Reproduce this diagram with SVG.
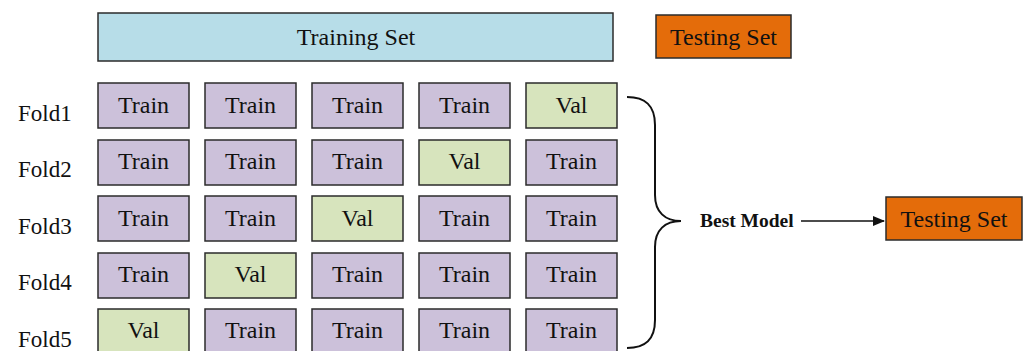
<svg xmlns="http://www.w3.org/2000/svg" width="1025" height="351" viewBox="0 0 1025 351">
  <style>
    .box { stroke: #2b2b2b; stroke-width: 1.5; }
    .train { fill: #ccc1da; }
    .val { fill: #d7e4bd; }
    .set { fill: #b7dde8; }
    .test { fill: #e46c0a; }
    text { font-family: "Liberation Serif", "Times New Roman", serif; fill: #111; }
    .cell { font-size: 24px; text-anchor: middle; }
    .fold { font-size: 23px; }
    .bold { font-size: 19.5px; font-weight: bold; }
  </style>
  <defs>
    <marker id="arrow" markerWidth="12" markerHeight="10" refX="11" refY="5" orient="auto" markerUnits="userSpaceOnUse">
      <path d="M0,0 L12,5 L0,10 Z" fill="#111"/>
    </marker>
  </defs>
  <rect width="1025" height="351" fill="#ffffff"/>

  <g id="training-set">
    <rect class="box set" x="98" y="13" width="515" height="48"/>
    <text class="cell" x="356" y="45">Training Set</text>
  </g>
  <g id="testing-set-top">
    <rect class="box test" x="656" y="15" width="135" height="43"/>
    <text class="cell" x="723.5" y="45">Testing Set</text>
  </g>

  <g id="labels">
    <text class="fold" x="18" y="121">Fold1</text>
    <text class="fold" x="18" y="177">Fold2</text>
    <text class="fold" x="18" y="234">Fold3</text>
    <text class="fold" x="18" y="290">Fold4</text>
    <text class="fold" x="18" y="347">Fold5</text>
  </g>

  <g id="fold1">
    <rect class="box train" x="98" y="83" width="91" height="45"/><text class="cell" x="143.5" y="113">Train</text>
    <rect class="box train" x="205" y="83" width="91" height="45"/><text class="cell" x="250.5" y="113">Train</text>
    <rect class="box train" x="312" y="83" width="91" height="45"/><text class="cell" x="357.5" y="113">Train</text>
    <rect class="box train" x="419" y="83" width="91" height="45"/><text class="cell" x="464.5" y="113">Train</text>
    <rect class="box val" x="526" y="83" width="91" height="45"/><text class="cell" x="571.5" y="113">Val</text>
  </g>
  <g id="fold2">
    <rect class="box train" x="98" y="140" width="91" height="45"/><text class="cell" x="143.5" y="169">Train</text>
    <rect class="box train" x="205" y="140" width="91" height="45"/><text class="cell" x="250.5" y="169">Train</text>
    <rect class="box train" x="312" y="140" width="91" height="45"/><text class="cell" x="357.5" y="169">Train</text>
    <rect class="box val" x="419" y="140" width="91" height="45"/><text class="cell" x="464.5" y="169">Val</text>
    <rect class="box train" x="526" y="140" width="91" height="45"/><text class="cell" x="571.5" y="169">Train</text>
  </g>
  <g id="fold3">
    <rect class="box train" x="98" y="196" width="91" height="45"/><text class="cell" x="143.5" y="226">Train</text>
    <rect class="box train" x="205" y="196" width="91" height="45"/><text class="cell" x="250.5" y="226">Train</text>
    <rect class="box val" x="312" y="196" width="91" height="45"/><text class="cell" x="357.5" y="226">Val</text>
    <rect class="box train" x="419" y="196" width="91" height="45"/><text class="cell" x="464.5" y="226">Train</text>
    <rect class="box train" x="526" y="196" width="91" height="45"/><text class="cell" x="571.5" y="226">Train</text>
  </g>
  <g id="fold4">
    <rect class="box train" x="98" y="253" width="91" height="45"/><text class="cell" x="143.5" y="282">Train</text>
    <rect class="box val" x="205" y="253" width="91" height="45"/><text class="cell" x="250.5" y="282">Val</text>
    <rect class="box train" x="312" y="253" width="91" height="45"/><text class="cell" x="357.5" y="282">Train</text>
    <rect class="box train" x="419" y="253" width="91" height="45"/><text class="cell" x="464.5" y="282">Train</text>
    <rect class="box train" x="526" y="253" width="91" height="45"/><text class="cell" x="571.5" y="282">Train</text>
  </g>
  <g id="fold5">
    <rect class="box val" x="98" y="309" width="91" height="45"/><text class="cell" x="143.5" y="338">Val</text>
    <rect class="box train" x="205" y="309" width="91" height="45"/><text class="cell" x="250.5" y="338">Train</text>
    <rect class="box train" x="312" y="309" width="91" height="45"/><text class="cell" x="357.5" y="338">Train</text>
    <rect class="box train" x="419" y="309" width="91" height="45"/><text class="cell" x="464.5" y="338">Train</text>
    <rect class="box train" x="526" y="309" width="91" height="45"/><text class="cell" x="571.5" y="338">Train</text>
  </g>

  <g id="best-model">
    <text class="bold" x="700" y="227">Best Model</text>
  </g>
  <g id="testing-set-final">
    <rect class="box test" x="886" y="197" width="136" height="43"/>
    <text class="cell" x="954" y="227">Testing Set</text>
  </g>

  <g id="connectors" fill="none" stroke="#111" stroke-width="2">
    <!-- curly brace gathering all five folds -->
    <path d="M627,97 C645,97 655,105 655,125 L655,195 C655,212 665,221 681,221 C665,221 655,230 655,247 L655,320 C655,340 645,348 627,348"/>
    <line x1="801" y1="221" x2="884" y2="221" stroke-width="1.3" marker-end="url(#arrow)"/>
  </g>
</svg>
